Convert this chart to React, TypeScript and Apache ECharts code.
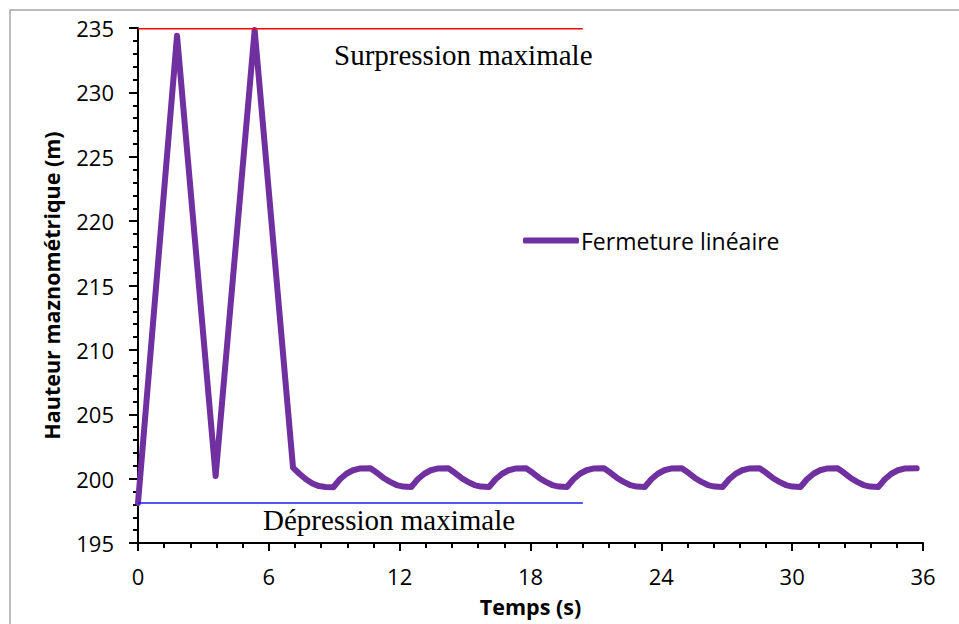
import React, { useEffect, useRef } from "react";
import * as echarts from "echarts";

// Temps (s)
const timeS: number[] = [
  0, 1.79, 3.56, 5.35, 7.11,
  7.4, 7.7, 8.0, 8.3, 8.6, 8.96,
  9.26, 9.56, 9.86, 10.16, 10.66, 10.96, 11.26, 11.56, 11.86, 12.16, 12.53,
  12.83, 13.13, 13.43, 13.73, 14.23, 14.53, 14.83, 15.13, 15.43, 15.73, 16.1,
  16.4, 16.7, 17.0, 17.3, 17.8, 18.1, 18.4, 18.7, 19.0, 19.3, 19.67,
  19.97, 20.27, 20.57, 20.87, 21.37, 21.67, 21.97, 22.27, 22.57, 22.87, 23.24,
  23.54, 23.84, 24.14, 24.44, 24.94, 25.24, 25.54, 25.84, 26.14, 26.44, 26.81,
  27.11, 27.41, 27.71, 28.01, 28.51, 28.81, 29.11, 29.41, 29.71, 30.01, 30.38,
  30.68, 30.98, 31.28, 31.58, 32.08, 32.38, 32.68, 32.98, 33.28, 33.58, 33.95,
  34.25, 34.55, 34.85, 35.15, 35.71,
];

// Hauteur manométrique (m)
const headM: number[] = [
  198.1, 234.4, 200.2, 234.85, 200.85,
  200.38, 199.95, 199.62, 199.42, 199.35, 199.33,
  199.95, 200.38, 200.65, 200.78, 200.8, 200.45, 200.05, 199.75, 199.5, 199.38, 199.35,
  199.95, 200.38, 200.65, 200.78, 200.8, 200.45, 200.05, 199.75, 199.5, 199.38, 199.35,
  199.95, 200.38, 200.65, 200.78, 200.8, 200.45, 200.05, 199.75, 199.5, 199.38, 199.35,
  199.95, 200.38, 200.65, 200.78, 200.8, 200.45, 200.05, 199.75, 199.5, 199.38, 199.35,
  199.95, 200.38, 200.65, 200.78, 200.8, 200.45, 200.05, 199.75, 199.5, 199.38, 199.35,
  199.95, 200.38, 200.65, 200.78, 200.8, 200.45, 200.05, 199.75, 199.5, 199.38, 199.35,
  199.95, 200.38, 200.65, 200.78, 200.8, 200.45, 200.05, 199.75, 199.5, 199.38, 199.35,
  199.95, 200.38, 200.65, 200.78, 200.8,
];

const surpressionLine: [number, number][] = [[0, 234.95], [20.4, 234.95]];
const depressionLine: [number, number][] = [[0, 198.1], [20.4, 198.1]];

const seriesName = "Fermeture linéaire";
const xTitle = "Temps (s)";
const yTitle = "Hauteur maznométrique (m)";
const surpressionLabel = "Surpression maximale";
const depressionLabel = "Dépression maximale";

const sansFont = "'Open Sans', 'Noto Sans', sans-serif";
const serifFont = "'Liberation Serif', 'DejaVu Serif', serif";

export default function App() {
  const ref = useRef<HTMLDivElement>(null);

  useEffect(() => {
    if (!ref.current) return;
    const chart = echarts.init(ref.current, undefined, { renderer: "svg" });
    const mainData = timeS.map((t, i) => [t, headM[i]]);

    chart.setOption({
      animation: false,
      backgroundColor: "#ffffff",
      grid: { left: 138, right: 36, top: 28, bottom: 81, containLabel: false },
      legend: {
        data: [seriesName],
        left: 523,
        top: 229,
        padding: 0,
        icon: "roundRect",
        itemWidth: 56,
        itemHeight: 6,
        textStyle: { fontFamily: sansFont, fontSize: 23, color: "#000", padding: [0, 0, 0, -3] },
      },
      xAxis: {
        type: "value",
        min: 0,
        max: 36,
        interval: 6,
        name: xTitle,
        nameLocation: "middle",
        nameGap: 52,
        nameTextStyle: { fontFamily: sansFont, fontSize: 21.5, fontWeight: "bold", color: "#000" },
        axisLine: { onZero: false, lineStyle: { color: "#000", width: 2 } },
        axisTick: { show: true, length: 8, lineStyle: { color: "#000", width: 2 } },
        minorTick: { show: true, splitNumber: 5, length: 5, lineStyle: { color: "#000", width: 2 } },
        splitLine: { show: false },
        axisLabel: { fontFamily: sansFont, fontSize: 22, color: "#000", margin: 22 },
      },
      yAxis: {
        type: "value",
        min: 195,
        max: 235,
        interval: 5,
        name: yTitle,
        nameLocation: "middle",
        nameGap: 76,
        nameRotate: 90,
        nameTextStyle: { fontFamily: sansFont, fontSize: 21.5, fontWeight: "bold", color: "#000" },
        axisLine: { onZero: false, lineStyle: { color: "#000", width: 2 } },
        axisTick: { show: true, length: 9, lineStyle: { color: "#000", width: 2 } },
        minorTick: { show: true, splitNumber: 5, length: 5, lineStyle: { color: "#000", width: 2 } },
        splitLine: { show: false },
        axisLabel: { fontFamily: sansFont, fontSize: 22, color: "#000", margin: 24 },
      },
      series: [
        {
          name: seriesName,
          type: "line",
          data: mainData,
          showSymbol: false,
          symbol: "none",
          smooth: false,
          lineStyle: { color: "#7030a0", width: 6, cap: "round", join: "round" },
          itemStyle: { color: "#7030a0" },
          z: 2,
        },
        {
          name: "surpression",
          type: "line",
          data: surpressionLine,
          symbol: "none",
          lineStyle: { color: "#ff0000", width: 1.5 },
          z: 3,
          silent: true,
        },
        {
          name: "depression",
          type: "line",
          data: depressionLine,
          symbol: "none",
          lineStyle: { color: "#1a1aee", width: 1.5 },
          z: 3,
          silent: true,
        },
      ],
      graphic: [
        {
          type: "rect",
          shape: { x: 10, y: 10, width: 1000, height: 700 },
          style: { fill: "none", stroke: "#a6a6a6", lineWidth: 1.5 },
          silent: true,
        },
        {
          type: "text",
          x: 334,
          y: 55,
          style: {
            text: surpressionLabel,
            fontFamily: serifFont,
            fontSize: 29,
            fill: "#000",
            align: "left",
            verticalAlign: "middle",
          },
        },
        {
          type: "text",
          x: 263,
          y: 520,
          style: {
            text: depressionLabel,
            fontFamily: serifFont,
            fontSize: 29,
            fill: "#000",
            align: "left",
            verticalAlign: "middle",
          },
        },
      ],
    });

    return () => chart.dispose();
  }, []);

  return (
    <div
      ref={ref}
      style={{ position: "absolute", left: 0, top: 0, width: 959, height: 624 }}
    />
  );
}
